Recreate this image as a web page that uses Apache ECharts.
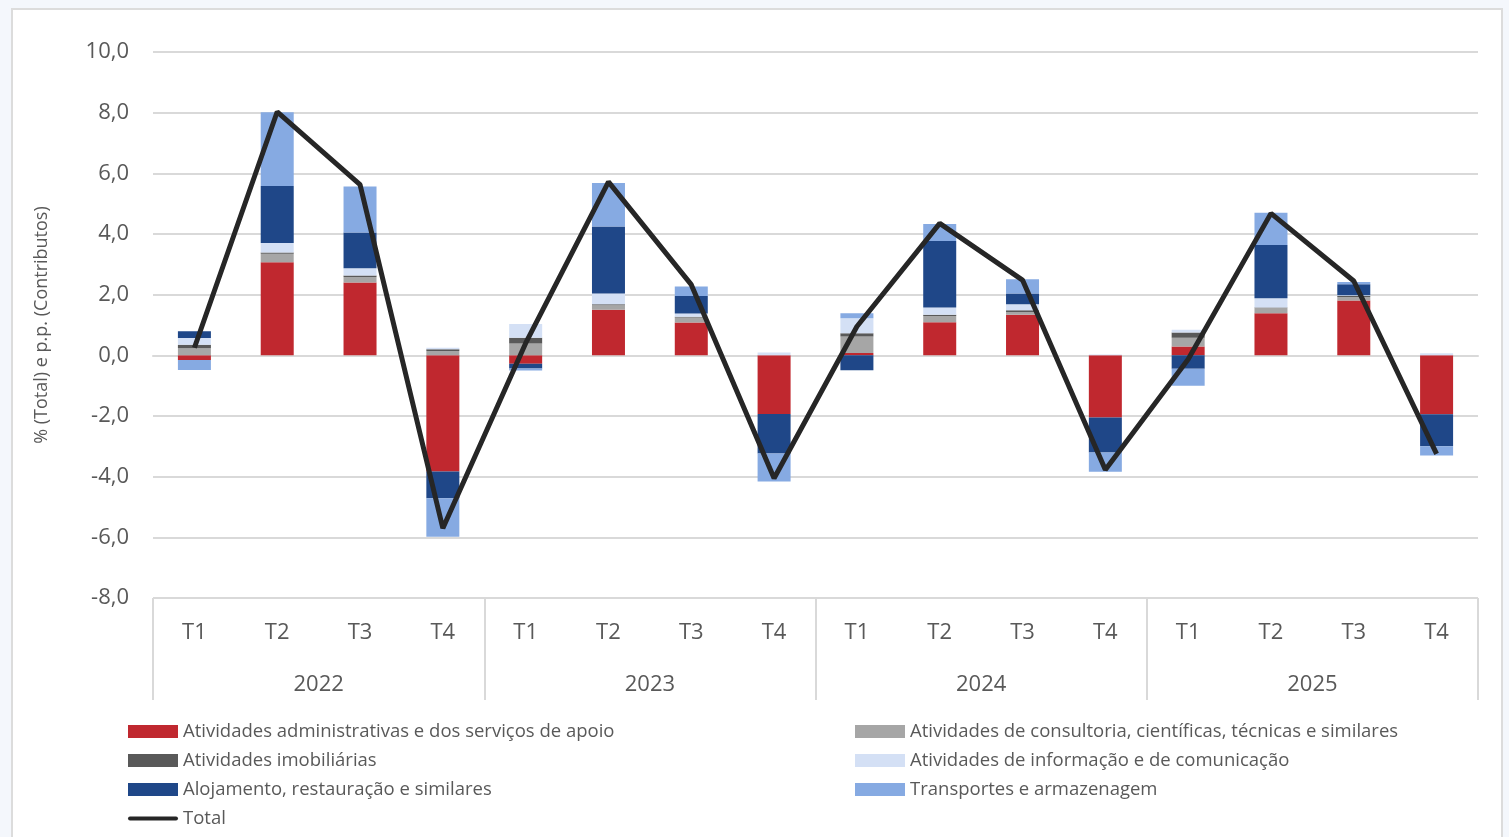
<!DOCTYPE html>
<html>
<head>
<meta charset="utf-8">
<script src="https://cdn.jsdelivr.net/npm/echarts@6/dist/echarts.min.js"></script>
<style>
  html, body { margin: 0; padding: 0; background: #f4f7fc; width: 1509px; height: 837px; overflow: hidden; }
  #panel { position: absolute; left: 11px; top: 8px; width: 1492px; height: 840px; background: #ffffff; border: 2px solid #dcdcdc; box-sizing: border-box; }
  #chart { position: absolute; left: 0; top: 0; width: 1509px; height: 837px; }
</style>
</head>
<body>
<div id="panel"></div>
<div id="chart"></div>
<script>
const quarters = ['T1','T2','T3','T4','T1','T2','T3','T4','T1','T2','T3','T4','T1','T2','T3','T4'];
const years = ['2022','2023','2024','2025'];

const admin       = [-0.15, 3.07, 2.40, -3.83, -0.28, 1.50, 1.08, -1.93, 0.08, 1.09, 1.34, -2.05, 0.29, 1.39, 1.81, -1.94];
const consultoria = [ 0.23, 0.28, 0.18,  0.14,  0.39, 0.15, 0.17,  0.00, 0.54, 0.21, 0.09,  0.00, 0.29, 0.17, 0.11,  0.00];
const imobiliarias= [ 0.12, 0.04, 0.05,  0.06,  0.19, 0.03, 0.02,  0.00, 0.11, 0.04, 0.06,  0.00, 0.17, 0.02, 0.04,  0.00];
const informacao  = [ 0.22, 0.31, 0.24,  0.05,  0.45, 0.36, 0.11,  0.09, 0.49, 0.24, 0.19,  0.03, 0.09, 0.30, 0.02,  0.07];
const alojamento  = [ 0.22, 1.88, 1.18, -0.88, -0.15, 2.21, 0.58, -1.31, -0.49, 2.19, 0.36, -1.15, -0.44, 1.76, 0.36, -1.06];
const transportes = [-0.33, 2.43, 1.52, -1.27, -0.07, 1.43, 0.31, -0.92, 0.17, 0.56, 0.47, -0.64, -0.56, 1.06, 0.08, -0.30];
const total       = [ 0.25, 8.03, 5.63, -5.70, 0.40, 5.72, 2.33, -4.05, 0.95, 4.35, 2.48, -3.77, -0.13, 4.68, 2.45, -3.25];

const names = [
  'Atividades administrativas e dos serviços de apoio',
  'Atividades de consultoria, científicas, técnicas e similares',
  'Atividades imobiliárias',
  'Atividades de informação e de comunicação',
  'Alojamento, restauração e similares',
  'Transportes e armazenagem',
  'Total'
];
const colors = ['#c0282f', '#a6a6a6', '#595959', '#d4e0f5', '#1f4788', '#86aae2'];
const barData = [admin, consultoria, imobiliarias, informacao, alojamento, transportes];

const FONT = 'Open Sans';
const TXT = '#595959';

const series = barData.map((d, i) => ({
  name: names[i],
  type: 'bar',
  stack: 'c',
  xAxisIndex: 0,
  barWidth: 33,
  data: d,
  itemStyle: { color: colors[i] },
  emphasis: { disabled: true }
}));
series.push({
  name: names[6],
  type: 'line',
  xAxisIndex: 0,
  data: total,
  symbol: 'none',
  showSymbol: false,
  lineStyle: { color: '#262626', width: 5 },
  itemStyle: { color: '#262626' },
  z: 5,
  emphasis: { disabled: true }
});

const lineIcon = 'path://M0,0 M2,4 L48,4 A2,2 0 0 1 48,8 L2,8 A2,2 0 0 1 2,4 Z M50,12';
const legendText = { color: TXT, fontSize: 18.5, fontFamily: FONT };

const chart = echarts.init(document.getElementById('chart'));
chart.setOption({
  animation: false,
  backgroundColor: 'transparent',
  textStyle: { fontFamily: FONT },
  grid: { left: 153, right: 31, top: 52, bottom: 239 },
  legend: [
    {
      left: 128, top: 722, orient: 'vertical', itemGap: 10, padding: 0,
      itemWidth: 50, itemHeight: 13, icon: 'rect',
      data: [names[0], names[2], names[4], { name: names[6], icon: lineIcon }],
      textStyle: legendText
    },
    {
      left: 855, top: 722, orient: 'vertical', itemGap: 10, padding: 0,
      itemWidth: 50, itemHeight: 13, icon: 'rect',
      data: [names[1], names[3], names[5]],
      textStyle: legendText
    }
  ],
  xAxis: [
    {
      type: 'category',
      data: quarters,
      position: 'bottom',
      axisLine: { show: true, lineStyle: { color: '#d9d9d9', width: 2 } },
      axisTick: { show: false },
      axisLabel: { color: TXT, fontSize: 22, margin: 24, interval: 0 }
    },
    {
      type: 'category',
      data: years,
      position: 'bottom',
      axisLine: { show: false },
      axisTick: { show: true, length: 102, lineStyle: { color: '#d9d9d9', width: 2 } },
      axisLabel: { color: TXT, fontSize: 22, margin: 76 },
      splitLine: { show: false }
    }
  ],
  yAxis: {
    type: 'value',
    min: -8, max: 10, interval: 2,
    name: '% (Total) e p.p. (Contributos)',
    nameLocation: 'middle',
    nameGap: 102,
    nameTextStyle: { color: TXT, fontSize: 18, fontFamily: FONT },
    axisLine: { show: false },
    axisTick: { show: false },
    axisLabel: {
      color: TXT, fontSize: 22, margin: 24,
      formatter: v => v.toFixed(1).replace('.', ',')
    },
    splitLine: { lineStyle: { color: '#d9d9d9', width: 2 } }
  },
  series: series
});
</script>
</body>
</html>
